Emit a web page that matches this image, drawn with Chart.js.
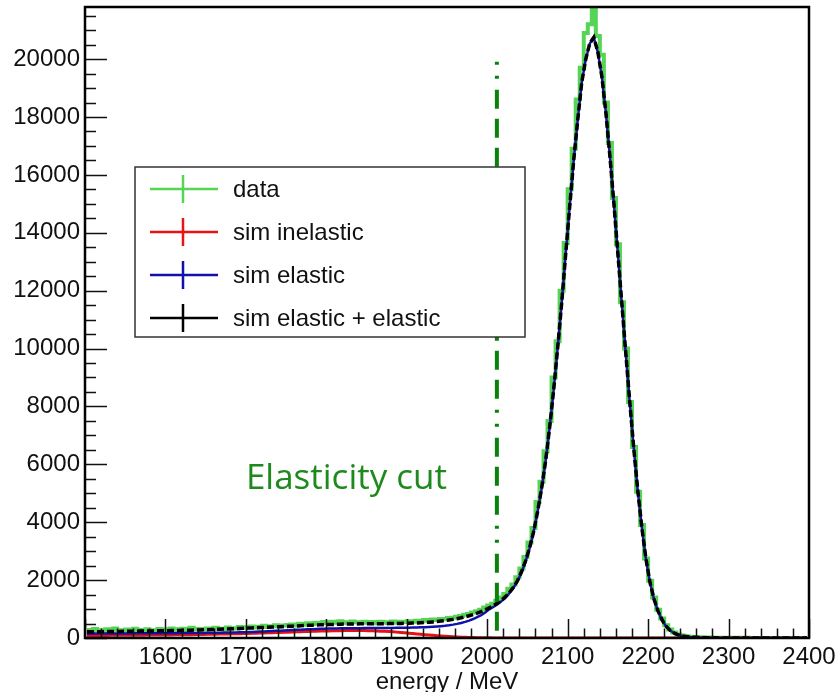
<!DOCTYPE html>
<html>
<head>
<meta charset="utf-8">
<script src="https://cdn.jsdelivr.net/npm/chart.js@4.4.1/dist/chart.umd.min.js"></script>
<style>
    html, body { margin: 0; padding: 0; background: #fff; }
    #wrap { width: 837px; height: 692px; }
</style>
</head>
<body>
<div id="wrap"><canvas id="energyChart" width="837" height="692"></canvas></div>
<script>
// histogram binning (MeV)
const binLow = 1500;
const binWidth = 5;

const dataCounts = [
    280,250,310,270,240,300,260,330,270,250,
    290,260,320,280,250,300,270,260,310,280,
    290,330,270,300,320,280,350,300,310,290,
    330,310,350,320,300,360,340,330,380,350,
    370,400,360,390,420,380,410,440,400,430,
    450,470,430,490,460,510,480,530,500,550,
    520,560,530,580,540,510,570,540,520,560,
    530,550,510,560,540,520,570,530,560,550,
    580,560,600,570,620,600,640,620,660,650,
    690,700,730,760,800,830,880,920,980,1050,
    1120,1180,1290,1400,1520,1700,1850,2100,2400,2800,
    3300,3800,4700,5400,6450,7500,9000,10250,12000,13650,
    15500,16900,18600,19700,20900,21200,21700,20800,20150,18500,
    17100,15200,13600,11600,10000,8150,6600,5050,3900,2750,
    1980,1400,980,670,440,290,190,125,85,60,
    45,35,28,22,18,15,12,10,9,8,
    7,6,6,5,5,4,4,3,3,3,
    3,2,2,2,2,2,2,1,1,1
];

const simInelastic = [
    80,82,84,86,88,90,91,92,93,94,
    95,96,97,98,99,100,101,102,103,104,
    105,106,108,110,112,114,116,118,120,123,
    126,129,132,135,138,141,144,147,150,154,
    158,162,166,170,174,178,182,187,192,197,
    202,207,212,217,222,227,231,235,239,243,
    246,249,252,254,256,257,258,258,257,255,
    252,248,243,237,230,222,213,203,192,180,
    168,155,142,129,116,103,91,80,69,59,
    50,42,35,29,24,19,15,12,9,7,
    5,4,3,2,2,1,1,1,0,0,
    0,0,0,0,0,0,0,0,0,0,
    0,0,0,0,0,0,0,0,0,0,
    0,0,0,0,0,0,0,0,0,0,
    0,0,0,0,0,0,0,0,0,0,
    0,0,0,0,0,0,0,0,0,0,
    0,0,0,0,0,0,0,0,0,0,
    0,0,0,0,0,0,0,0,0,0
];

const simElastic = [
    150,150,152,152,154,154,155,156,157,158,
    158,159,160,160,161,162,162,163,164,165,
    166,167,168,169,170,171,172,173,174,176,
    178,180,182,184,186,188,190,193,196,200,
    205,210,216,222,228,234,240,247,254,261,
    268,275,282,289,295,301,306,311,316,320,
    324,327,330,333,335,337,339,340,341,342,
    343,344,345,346,347,348,349,350,352,354,
    357,360,364,369,375,382,390,399,410,422,
    440,462,488,520,558,602,655,718,790,880,
    990,1070,1160,1265,1390,1545,1730,1955,2250,2620,
    3080,3640,4340,5140,6090,7240,8540,9990,11540,13240,
    14890,16490,17890,19190,19990,20540,20740,20240,19390,18140,
    16640,14990,13240,11490,9740,8040,6440,4990,3740,2690,
    1890,1320,910,610,395,255,165,108,70,47,
    31,21,14,10,8,6,5,4,4,3,
    3,3,2,2,2,2,2,1,1,1,
    1,1,1,1,1,1,1,1,1,1
];

const simTotal = [
    215,215,218,220,220,222,224,226,228,230,
    232,234,236,238,240,242,244,246,248,250,
    253,256,259,262,265,268,272,276,280,284,
    288,292,297,302,307,312,318,324,330,336,
    342,348,354,360,366,372,378,384,390,396,
    403,410,417,424,431,438,444,450,455,460,
    465,469,473,477,480,483,485,487,489,490,
    491,492,493,494,495,497,499,501,503,506,
    510,514,520,527,535,545,556,569,584,600,
    620,643,668,697,730,768,810,858,912,972,
    1040,1115,1200,1300,1420,1570,1750,1970,2280,2650,
    3100,3650,4350,5150,6100,7250,8550,10000,11550,13250,
    14900,16500,17900,19200,20000,20550,20750,20250,19400,18150,
    16650,15000,13250,11500,9750,8050,6450,5000,3750,2700,
    1900,1330,920,620,400,260,170,110,72,48,
    32,22,15,10,8,6,5,4,4,3,
    3,3,2,2,2,2,2,1,1,1,
    1,1,1,1,1,1,1,1,1,1
];

const cutEnergy = 2012;
const cutRange = [250, 20000];

const xMin = 1500, xMax = 2400, xStep = 100, xMinorStep = 20;
const yMin = 0, yMax = 21800, yStep = 2000, yMinorStep = 500, yLabelMax = 20000;

const legendLabels = ['data', 'sim inelastic', 'sim elastic', 'sim elastic + elastic'];

const energy = dataCounts.map((_, i) => binLow + binWidth * (i + 0.5));
const toPoints = arr => arr.map((v, i) => ({ x: energy[i], y: v }));

const tickFont = { family: '"Liberation Sans", Arial, sans-serif', size: 24 };

// ROOT-like frame, inward ticks, legend and annotation
const rootStyle = {
    id: 'rootStyle',
    afterDraw(chart) {
        const { ctx, chartArea: a, scales: { x, y } } = chart;
        ctx.save();
        ctx.strokeStyle = '#111';
        ctx.lineWidth = 1.5;
        ctx.beginPath();
        for (let v = xMin; v <= xMax; v += xMinorStep) {
            const px = Math.round(x.getPixelForValue(v)) + 0.5;
            const len = v % xStep === 0 ? 19 : 9.5;
            ctx.moveTo(px, a.bottom);
            ctx.lineTo(px, a.bottom - len);
        }
        for (let v = yMin; v <= yMax; v += yMinorStep) {
            const py = Math.round(y.getPixelForValue(v)) + 0.5;
            const len = v % yStep === 0 ? 22 : 11;
            ctx.moveTo(a.left, py);
            ctx.lineTo(a.left + len, py);
        }
        ctx.stroke();

        ctx.strokeStyle = '#000';
        ctx.lineWidth = 2.5;
        ctx.strokeRect(a.left, a.top, a.right - a.left, a.bottom - a.top);

        // legend
        const box = { left: 135, top: 167, right: 525, bottom: 337 };
        ctx.fillStyle = '#fff';
        ctx.fillRect(box.left, box.top, box.right - box.left, box.bottom - box.top);
        ctx.strokeStyle = '#333';
        ctx.lineWidth = 1.5;
        ctx.strokeRect(box.left, box.top, box.right - box.left, box.bottom - box.top);
        ctx.font = '24px "Liberation Sans", Arial, sans-serif';
        ctx.textBaseline = 'middle';
        legendLabels.forEach((label, i) => {
            const ly = 189 + i * 43;
            ctx.strokeStyle = chart.data.datasets[i].legendColor;
            ctx.lineWidth = 2.5;
            ctx.beginPath();
            ctx.moveTo(150, ly);
            ctx.lineTo(218, ly);
            ctx.moveTo(183, ly - 14);
            ctx.lineTo(183, ly + 14);
            ctx.stroke();
            ctx.fillStyle = '#111';
            ctx.fillText(label, 233, ly + 1);
        });

        // cut annotation
        ctx.fillStyle = '#1e8a1e';
        ctx.font = '35px "Open Sans", "Noto Sans", sans-serif';
        ctx.textBaseline = 'alphabetic';
        ctx.fillText('Elasticity cut', x.getPixelForValue(1700), y.getPixelForValue(5150));

        // axis title
        ctx.fillStyle = '#111';
        ctx.font = '24px "Liberation Sans", Arial, sans-serif';
        ctx.textAlign = 'center';
        ctx.fillText('energy / MeV', (a.left + a.right) / 2, 689);
        ctx.restore();
    }
};

new Chart(document.getElementById('energyChart'), {
    type: 'line',
    data: {
        datasets: [
            {
                label: legendLabels[0],
                data: toPoints(dataCounts),
                borderColor: '#55d455',
                legendColor: '#55d455',
                borderWidth: 4,
                stepped: 'middle',
                pointRadius: 0,
                order: 4
            },
            {
                label: legendLabels[1],
                data: toPoints(simInelastic),
                borderColor: '#e81010',
                legendColor: '#ee1111',
                borderWidth: 3,
                pointRadius: 0,
                order: 3
            },
            {
                label: legendLabels[2],
                data: toPoints(simElastic),
                borderColor: '#1212aa',
                legendColor: '#1212aa',
                borderWidth: 2.5,
                pointRadius: 0,
                order: 2
            },
            {
                label: legendLabels[3],
                data: toPoints(simTotal),
                borderColor: '#000',
                legendColor: '#000',
                borderWidth: 3.5,
                borderDash: [7, 3],
                pointRadius: 0,
                order: 1
            },
            {
                label: 'cut',
                data: cutRange.map(v => ({ x: cutEnergy, y: v })),
                borderColor: '#0a820a',
                borderWidth: 4,
                borderDash: [19, 10, 19, 10, 19, 11, 3, 11, 3, 11],
                pointRadius: 0,
                order: 0
            }
        ]
    },
    options: {
        responsive: false,
        animation: false,
        devicePixelRatio: 1,
        layout: { padding: { top: 7, right: 28, left: 0, bottom: 0 } },
        plugins: {
            legend: { display: false },
            tooltip: { enabled: false }
        },
        scales: {
            x: {
                type: 'linear',
                min: xMin,
                max: xMax,
                grid: { display: false, drawTicks: false },
                border: { display: false },
                afterFit: s => { s.height = 54; s.paddingLeft = 0; s.paddingRight = 0; },
                ticks: {
                    stepSize: xStep,
                    autoSkip: false,
                    maxRotation: 0,
                    padding: 5,
                    color: '#111',
                    font: tickFont,
                    callback: v => (v % xStep === 0 && v !== xMin) ? String(v) : ''
                }
            },
            y: {
                min: yMin,
                max: yMax,
                grid: { display: false, drawTicks: false },
                border: { display: false },
                afterBuildTicks: s => {
                    const ticks = [];
                    for (let v = yMin; v <= yLabelMax; v += yStep) ticks.push({ value: v });
                    s.ticks = ticks;
                },
                afterFit: s => { s.width = 85; s.paddingTop = 0; s.paddingBottom = 0; },
                ticks: {
                    padding: 5,
                    color: '#111',
                    font: tickFont,
                    callback: v => String(v)
                }
            }
        }
    },
    plugins: [rootStyle]
});
</script>
</body>
</html>
